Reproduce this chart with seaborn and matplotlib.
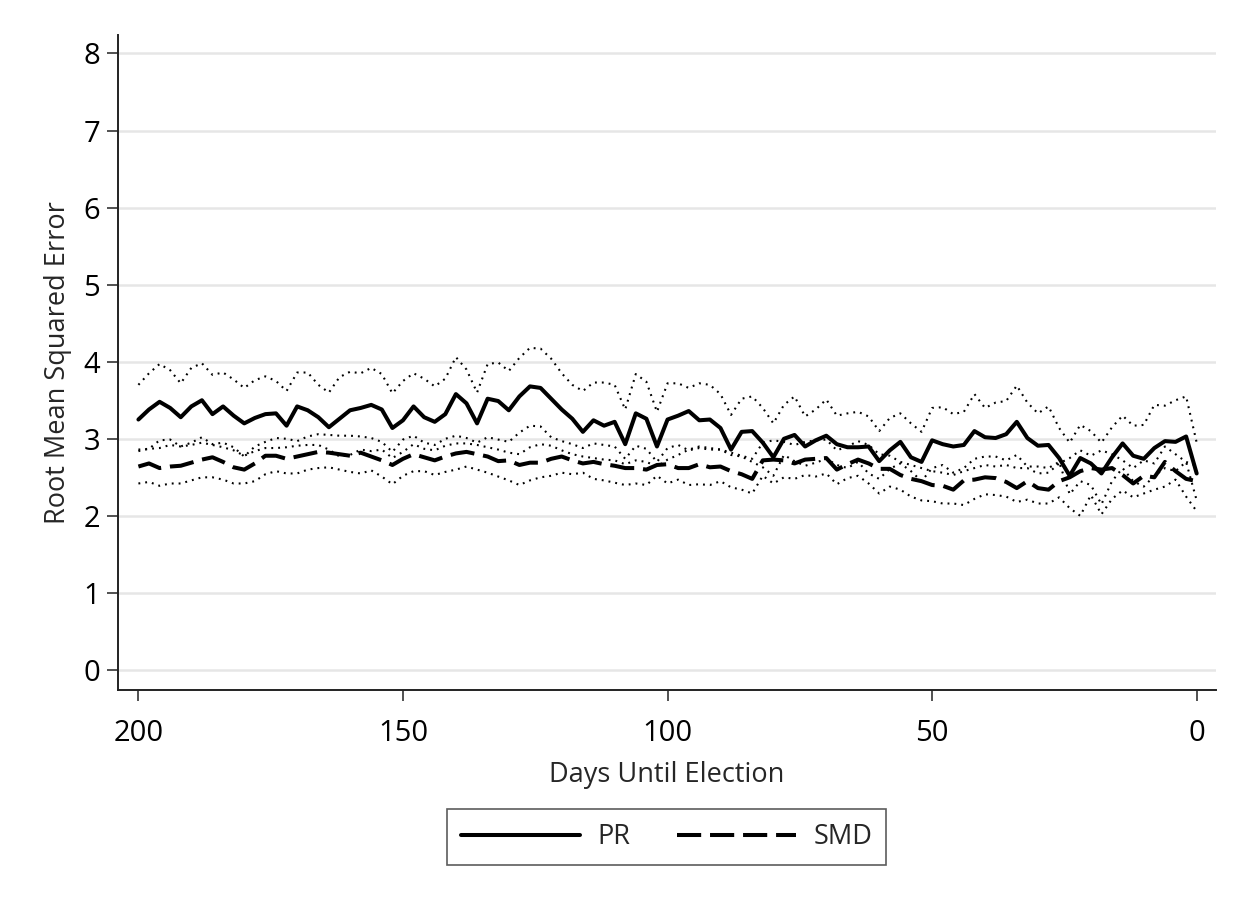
import numpy as np
import pandas as pd
import matplotlib
matplotlib.use("Agg")
import matplotlib.pyplot as plt
from matplotlib.lines import Line2D
import seaborn as sns

# ---------------- data ----------------
days = list(range(200, -1, -2))

pr_mean = [3.25, 3.38, 3.48, 3.40, 3.28, 3.42, 3.50, 3.32, 3.42, 3.30, 3.20, 3.27, 3.32,
           3.33, 3.17, 3.42, 3.37, 3.28, 3.15, 3.26, 3.37, 3.40, 3.44, 3.38, 3.14, 3.24,
           3.42, 3.28, 3.22, 3.32, 3.58, 3.46, 3.20, 3.52, 3.49, 3.37, 3.55, 3.68, 3.66,
           3.52, 3.38, 3.26, 3.09, 3.24, 3.17, 3.22, 2.93, 3.33, 3.26, 2.90, 3.25, 3.30,
           3.36, 3.24, 3.25, 3.14, 2.86, 3.09, 3.10, 2.95, 2.76, 3.00, 3.05, 2.90, 2.98,
           3.04, 2.93, 2.89, 2.89, 2.90, 2.71, 2.85, 2.96, 2.76, 2.70, 2.98, 2.93,
           2.90, 2.92, 3.10, 3.02, 3.01, 3.06, 3.22, 3.01, 2.91, 2.92,
           2.75, 2.52, 2.75, 2.68, 2.55, 2.76, 2.94, 2.78, 2.74, 2.88, 2.97, 2.96, 3.03, 2.55]

smd_mean = [2.64, 2.68, 2.62, 2.64, 2.65, 2.69, 2.73, 2.76, 2.70, 2.63, 2.60, 2.68, 2.78,
            2.78, 2.74, 2.77, 2.80, 2.83, 2.82, 2.80, 2.78, 2.82, 2.77, 2.72, 2.66, 2.74,
            2.80, 2.76, 2.72, 2.77, 2.81, 2.83, 2.80, 2.77, 2.71, 2.72, 2.66, 2.69, 2.69,
            2.74, 2.77, 2.72, 2.68, 2.70, 2.67, 2.65, 2.62, 2.62, 2.60, 2.66, 2.67, 2.62,
            2.62, 2.67, 2.63, 2.64, 2.58, 2.54, 2.48, 2.72, 2.73, 2.72, 2.68, 2.73, 2.74,
            2.75, 2.60, 2.67, 2.73, 2.68, 2.61, 2.61, 2.53, 2.48, 2.45, 2.40, 2.39,
            2.34, 2.46, 2.47, 2.50, 2.49, 2.44, 2.36, 2.45, 2.36, 2.34,
            2.45, 2.50, 2.58, 2.62, 2.60, 2.62, 2.53, 2.42, 2.52, 2.50, 2.70, 2.58, 2.48, 2.45]

pr_upper = [3.70, 3.85, 3.97, 3.89, 3.72, 3.92, 3.98, 3.83, 3.86, 3.77, 3.66, 3.76, 3.81,
            3.75, 3.62, 3.86, 3.86, 3.70, 3.60, 3.80, 3.87, 3.85, 3.92, 3.84, 3.59, 3.75,
            3.85, 3.78, 3.68, 3.78, 4.06, 3.90, 3.60, 3.97, 3.99, 3.88, 4.05, 4.18, 4.17,
            4.04, 3.85, 3.70, 3.62, 3.73, 3.73, 3.70, 3.38, 3.84, 3.74, 3.35, 3.72, 3.72,
            3.66, 3.72, 3.70, 3.58, 3.31, 3.52, 3.55, 3.40, 3.20, 3.44, 3.55, 3.29, 3.38,
            3.51, 3.30, 3.33, 3.35, 3.29, 3.10, 3.27, 3.33, 3.20, 3.09, 3.40, 3.41,
            3.32, 3.35, 3.58, 3.40, 3.47, 3.49, 3.69, 3.47, 3.33, 3.42,
            3.14, 2.95, 3.18, 3.10, 2.95, 3.15, 3.30, 3.17, 3.18, 3.44, 3.43, 3.50, 3.55, 2.95]

pr_lower = [2.84, 2.87, 2.98, 2.99, 2.90, 2.95, 3.02, 2.93, 2.95, 2.89, 2.77, 2.90, 2.96,
            3.01, 3.00, 2.97, 3.03, 3.06, 3.05, 3.04, 3.04, 3.03, 3.01, 2.96, 2.83, 2.99,
            3.04, 2.95, 2.92, 3.00, 3.04, 3.01, 2.95, 3.02, 2.99, 2.96, 3.08, 3.17, 3.16,
            3.02, 2.97, 2.93, 2.88, 2.94, 2.92, 2.90, 2.74, 2.91, 2.87, 2.70, 2.88, 2.92,
            2.85, 2.88, 2.86, 2.86, 2.79, 2.77, 2.70, 2.63, 2.52, 2.79, 2.71, 2.65, 2.69,
            2.74, 2.66, 2.62, 2.70, 2.55, 2.48, 2.61, 2.68, 2.58, 2.45, 2.62, 2.66,
            2.56, 2.62, 2.74, 2.77, 2.77, 2.72, 2.79, 2.64, 2.64, 2.62,
            2.70, 2.28, 2.45, 2.40, 2.15, 2.45, 2.62, 2.45, 2.38, 2.52, 2.62, 2.58, 2.70, 2.20]

smd_upper = [2.86, 2.87, 2.88, 2.92, 2.90, 2.92, 2.95, 2.92, 2.89, 2.85, 2.78, 2.84, 2.88,
             2.88, 2.89, 2.91, 2.92, 2.92, 2.86, 2.77, 2.79, 2.86, 2.84, 2.86, 2.75, 2.83,
             2.93, 2.87, 2.85, 2.91, 2.94, 2.94, 2.92, 2.89, 2.86, 2.82, 2.80, 2.89, 2.93,
             2.91, 2.85, 2.80, 2.77, 2.75, 2.73, 2.72, 2.67, 2.72, 2.70, 2.64, 2.73, 2.79,
             2.86, 2.90, 2.88, 2.86, 2.82, 2.78, 2.74, 2.95, 2.98, 2.96, 2.92, 2.96, 2.98,
             2.99, 2.85, 2.90, 2.97, 2.92, 2.80, 2.78, 2.70, 2.66, 2.62, 2.58, 2.56,
             2.53, 2.58, 2.62, 2.66, 2.64, 2.66, 2.62, 2.62, 2.55, 2.56,
             2.68, 2.75, 2.85, 2.78, 2.85, 2.80, 2.72, 2.62, 2.72, 2.68, 2.90, 2.80, 2.70, 2.65]

smd_lower = [2.42, 2.44, 2.39, 2.42, 2.42, 2.46, 2.50, 2.50, 2.47, 2.42, 2.42, 2.45, 2.54,
             2.58, 2.55, 2.55, 2.60, 2.62, 2.63, 2.60, 2.57, 2.55, 2.59, 2.51, 2.41, 2.52,
             2.58, 2.58, 2.53, 2.57, 2.60, 2.64, 2.60, 2.56, 2.51, 2.46, 2.40, 2.46, 2.50,
             2.52, 2.56, 2.54, 2.56, 2.48, 2.46, 2.43, 2.40, 2.42, 2.40, 2.52, 2.42, 2.47,
             2.40, 2.41, 2.40, 2.45, 2.37, 2.34, 2.29, 2.52, 2.42, 2.50, 2.48, 2.53, 2.51,
             2.55, 2.41, 2.49, 2.52, 2.42, 2.29, 2.38, 2.34, 2.25, 2.20, 2.19, 2.16,
             2.16, 2.14, 2.22, 2.28, 2.27, 2.25, 2.18, 2.21, 2.16, 2.16,
             2.24, 2.10, 2.00, 2.27, 2.02, 2.22, 2.33, 2.24, 2.29, 2.34, 2.38, 2.47, 2.25, 2.06]

legend_labels = ["PR", "SMD"]
x_ticks = [200, 150, 100, 50, 0]
y_ticks = [0, 1, 2, 3, 4, 5, 6, 7, 8]
x_label = "Days Until Election"
y_label = "Root Mean Squared Error"

# ---------------- styling ----------------
sns.set_style("white")
plt.rcParams["font.family"] = ["Open Sans", "DejaVu Sans"]

W, H, DPI = 1248, 907, 100
fig = plt.figure(figsize=(W / DPI, H / DPI), dpi=DPI)
ax = fig.add_axes([118.3 / W, 1 - 690 / H, (1216 - 118.3) / W, (690 - 35) / H])

dotted = (0, (0.9, 2.4))
dashed = (0, (6.0, 2.2))

for vals in [pr_upper, pr_lower, smd_upper, smd_lower]:
    sns.lineplot(x=days, y=vals, ax=ax, color="black", linewidth=1.5,
                 linestyle=dotted, legend=False, sort=False)
sns.lineplot(x=days, y=pr_mean, ax=ax, color="black", linewidth=2.9,
             linestyle="-", legend=False, sort=False)
sns.lineplot(x=days, y=smd_mean, ax=ax, color="black", linewidth=2.9,
             linestyle=dashed, legend=False, sort=False)

ax.set_xlim(203.8, -3.65)
ax.set_ylim(-0.26, 8.24)
ax.set_xticks(x_ticks)
ax.set_yticks(y_ticks)
ax.set_xticklabels([str(t) for t in x_ticks])
ax.set_yticklabels([str(t) for t in y_ticks])

ax.yaxis.grid(True, color="#e6e6e6", linewidth=1.8, zorder=0)
ax.xaxis.grid(False)
ax.set_axisbelow(True)

for s in ["top", "right"]:
    ax.spines[s].set_visible(False)
for s in ["left", "bottom"]:
    ax.spines[s].set_color("#222222")
    ax.spines[s].set_linewidth(1.4)

ax.tick_params(axis="both", which="major", direction="out", length=8, width=1.2,
               color="#333333", labelsize=21, labelcolor="black", bottom=True, left=True)
ax.tick_params(axis="x", pad=13)
ax.tick_params(axis="y", pad=5)

ax.set_xlabel(x_label, fontsize=19.5, labelpad=9)
ax.set_ylabel(y_label, fontsize=19.5, labelpad=8)

handles = [Line2D([0], [0], color="black", linewidth=2.9, linestyle="-"),
           Line2D([0], [0], color="black", linewidth=2.9, linestyle=dashed)]
leg = fig.legend(handles, legend_labels, loc="center", ncol=2,
                 bbox_to_anchor=(666.5 / W, 1 - 837 / H), fontsize=19.5,
                 frameon=True, fancybox=False, edgecolor="#333333",
                 handlelength=4.4, handletextpad=0.65, columnspacing=1.7,
                 borderpad=0.5, borderaxespad=0)
leg.get_frame().set_linewidth(1.2)

fig.savefig("out.png", dpi=DPI, facecolor="white")
